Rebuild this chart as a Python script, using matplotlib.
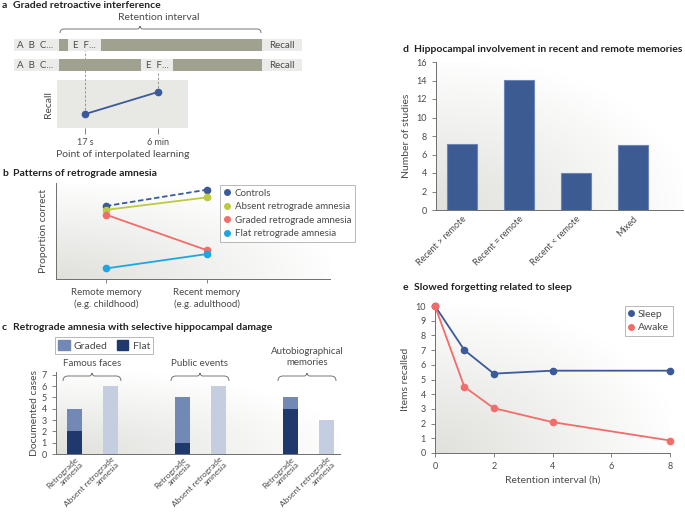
import numpy as np
import matplotlib
matplotlib.use('Agg')
import matplotlib.pyplot as plt
from matplotlib.colors import LinearSegmentedColormap
from matplotlib.path import Path
from matplotlib.patches import PathPatch, Rectangle, Patch
from matplotlib.lines import Line2D

plt.rcParams['font.family'] = ['Lato', 'DejaVu Sans']

# --- data -------------------------------------------------------------
# a: graded retroactive interference
interp_labels = ['17 s', '6 min']
recall_a = [0.29, 0.75]

# b: patterns of retrograde amnesia (proportion correct, schematic)
memory_labels = ['Remote memory\n(e.g. childhood)', 'Recent memory\n(e.g. adulthood)']
controls = [0.76, 0.93]
absent_ra = [0.72, 0.85]
graded_ra = [0.67, 0.30]
flat_ra = [0.11, 0.26]

# c: retrograde amnesia with selective hippocampal damage
groups_c = ['Famous faces', 'Public events', 'Autobiographical\nmemories']
ra_flat = [2, 1, 4]
ra_graded = [2, 4, 1]
absent_cases = [6, 6, 3]
bar_labels_c = ['Retrograde\namnesia', 'Absent retrograde\namnesia']

# d: hippocampal involvement
cats_d = ['Recent > remote', 'Recent = remote', 'Recent < remote', 'Mixed']
studies = [7.1, 14.05, 4, 7]

# e: slowed forgetting related to sleep
hours = [0, 1, 2, 4, 8]
sleep = [10, 7, 5.4, 5.6, 5.6]
awake = [10, 4.5, 3.05, 2.1, 0.85]

# --- style ------------------------------------------------------------
W, H = 685, 513
grey_txt = '#4a4a4a'
spine_c = '#6e6e6e'
c_blue = '#3a5a9a'
c_lime = '#bccb3c'
c_red = '#f26d6a'
c_cyan = '#1ea6e2'
c_graded = '#7189b4'
c_flat = '#1f396c'
c_absent = '#c5cde0'
bg_cmap = LinearSegmentedColormap.from_list('bg', ['#e0e0dc', '#ffffff'])

fig = plt.figure(figsize=(6.85, 5.13), dpi=100)


def rect(x0, y0, x1, y1):
    return [x0 / W, 1 - y1 / H, (x1 - x0) / W, (y1 - y0) / H]


def gradient(ax):
    gx, gy = np.meshgrid(np.linspace(0, 1, 200), np.linspace(0, 1, 200))
    t = np.clip(np.sqrt(gx ** 2 + gy ** 2) / 1.05, 0, 1)
    ax.imshow(t, cmap=bg_cmap, extent=(0, 1, 0, 1), transform=ax.transAxes,
              origin='lower', aspect='auto', zorder=0, interpolation='bilinear')


def style(ax):
    for s in ['top', 'right']:
        ax.spines[s].set_visible(False)
    for s in ['left', 'bottom']:
        ax.spines[s].set_color(spine_c)
        ax.spines[s].set_linewidth(0.7)
    ax.tick_params(colors=spine_c, labelcolor=grey_txt, labelsize=6.5,
                   length=3, width=0.6)


def brace(ax, x0, x1, y, xm=None, h=5):
    if xm is None:
        xm = (x0 + x1) / 2
    verts = [(x0, y + h), (x0, y), (x0 + h, y), (xm - 3, y), (xm, y), (xm, y - 3),
             (xm, y - 3), (xm, y), (xm + 3, y), (x1 - h, y), (x1, y), (x1, y + h)]
    codes = [Path.MOVETO, Path.CURVE3, Path.CURVE3, Path.LINETO, Path.CURVE3, Path.CURVE3,
             Path.MOVETO, Path.CURVE3, Path.CURVE3, Path.LINETO, Path.CURVE3, Path.CURVE3]
    ax.add_patch(PathPatch(Path(verts, codes), fill=False, ec='#777777', lw=0.7))


# --- a inset ----------------------------------------------------------
axa = fig.add_axes(rect(57, 80, 188, 128))
axa.set_facecolor('#e8e8e4')
axa.set_xlim(-0.384, 1.41)
axa.set_ylim(0, 1)
axa.plot([0, 1], recall_a, color=c_blue, lw=1.3, marker='o', ms=4.5, zorder=3)
axa.plot([0, 0], [recall_a[0], 1.6], ls=(0, (3, 2)), color='#888888', lw=0.6, clip_on=False, zorder=2)
axa.plot([1, 1], [recall_a[1], 1.19], ls=(0, (3, 2)), color='#888888', lw=0.6, clip_on=False, zorder=2)
for s in axa.spines.values():
    s.set_visible(False)
axa.set_xticks([0, 1])
axa.set_xticklabels(interp_labels)
axa.set_yticks([])
axa.tick_params(colors=spine_c, labelcolor=grey_txt, labelsize=6.5, length=4, width=0.6)
axa.set_xlabel('Point of interpolated learning', fontsize=7.5, color=grey_txt, labelpad=2)
axa.set_ylabel('Recall', fontsize=7.5, color=grey_txt, labelpad=3)

# --- b ----------------------------------------------------------------
axb = fig.add_axes(rect(56, 183, 330, 279))
gradient(axb)
style(axb)
xb = [0, 1]
axb.plot(xb, controls, color=c_blue, lw=1.3, ls=(0, (3, 1.5)), marker='o', ms=4.5)
axb.plot(xb, absent_ra, color=c_lime, lw=1.3, marker='o', ms=4.5)
axb.plot(xb, graded_ra, color=c_red, lw=1.3, marker='o', ms=4.5)
axb.plot(xb, flat_ra, color=c_cyan, lw=1.3, marker='o', ms=4.5)
axb.set_xlim(-0.495, 2.22)
axb.set_ylim(0, 1)
axb.set_xticks(xb)
axb.set_xticklabels(memory_labels, fontsize=7, linespacing=1.3)
axb.set_yticks([])
axb.set_ylabel('Proportion correct', fontsize=7.5, color=grey_txt, labelpad=6)
hb = [Line2D([], [], ls='none', marker='o', ms=4, color=c) for c in [c_blue, c_lime, c_red, c_cyan]]
lb = axb.legend(hb, ['Controls', 'Absent retrograde amnesia', 'Graded retrograde amnesia',
                     'Flat retrograde amnesia'],
                loc='upper left', bbox_to_anchor=(220 / W, 1 - 185 / H),
                bbox_transform=fig.transFigure, fontsize=7, frameon=True, fancybox=False,
                handlelength=0.6, handletextpad=0.5, borderpad=0.4, labelspacing=0.45,
                borderaxespad=0)
lb.get_frame().set_edgecolor('#999999')
lb.get_frame().set_linewidth(0.6)
for t in lb.get_texts():
    t.set_color(grey_txt)

# --- c ----------------------------------------------------------------
axc = fig.add_axes(rect(56, 372, 340, 454))
gradient(axc)
style(axc)
xr = [0, 3, 6]
xa = [1, 4, 7]
bw = 0.42
axc.bar(xr, ra_flat, width=bw, color=c_flat, zorder=2)
axc.bar(xr, ra_graded, bottom=ra_flat, width=bw, color=c_graded, zorder=2)
axc.bar(xa, absent_cases, width=bw, color=c_absent, zorder=2)
axc.set_xlim(-0.51, 7.37)
axc.set_ylim(0, 7.25)
axc.set_yticks(range(8))
axc.set_xticks(xr + xa)
axc.set_xticklabels([bar_labels_c[0]] * 3 + [bar_labels_c[1]] * 3, rotation=45,
                    ha='right', rotation_mode='anchor', fontsize=6, linespacing=1.0)
axc.tick_params(axis='x', length=0, pad=1)
axc.set_ylabel('Documented cases', fontsize=7.5, color=grey_txt, labelpad=2)
hc = [Patch(color=c_graded), Patch(color=c_flat)]
lc = axc.legend(hc, ['Graded', 'Flat'], ncol=2, loc='upper left',
                bbox_to_anchor=(55 / W, 1 - 337 / H), bbox_transform=fig.transFigure,
                fontsize=7.5, frameon=True, fancybox=False, handlelength=1.1, handleheight=1.1,
                handletextpad=0.4, columnspacing=0.9, borderpad=0.3, borderaxespad=0)
lc.get_frame().set_edgecolor('#999999')
lc.get_frame().set_linewidth(0.6)
for t in lc.get_texts():
    t.set_color(grey_txt)

# --- d ----------------------------------------------------------------
axd = fig.add_axes(rect(436, 62, 683, 210))
gradient(axd)
style(axd)
axd.bar(range(len(cats_d)), studies, width=0.52, color='#3b5b92', edgecolor='#6b86b6',
        lw=0.8, zorder=2)
axd.set_xlim(-0.456, 3.88)
axd.set_ylim(0, 16)
axd.set_yticks(range(0, 17, 2))
axd.set_xticks(range(len(cats_d)))
axd.set_xticklabels(cats_d, rotation=45, ha='right', rotation_mode='anchor', fontsize=6.5)
axd.tick_params(axis='x', length=0)
axd.set_ylabel('Number of studies', fontsize=7.5, color=grey_txt, labelpad=4)

# --- e ----------------------------------------------------------------
axe = fig.add_axes(rect(435, 306, 670, 453))
gradient(axe)
style(axe)
axe.plot(hours, sleep, color=c_blue, lw=1.3, marker='o', ms=4.5, clip_on=False, zorder=3)
axe.plot(hours, awake, color=c_red, lw=1.3, marker='o', ms=4.5, clip_on=False, zorder=3)
axe.set_xlim(0, 8)
axe.set_ylim(0, 10)
axe.set_xticks(range(0, 9, 2))
axe.set_yticks(range(11))
axe.set_xlabel('Retention interval (h)', fontsize=7.5, color=grey_txt, labelpad=3)
axe.set_ylabel('Items recalled', fontsize=7.5, color=grey_txt, labelpad=4)
he = [Line2D([], [], ls='none', marker='o', ms=4, color=c) for c in [c_blue, c_red]]
le = axe.legend(he, ['Sleep', 'Awake'], loc='upper left',
                bbox_to_anchor=(625 / W, 1 - 306 / H), bbox_transform=fig.transFigure,
                fontsize=7.5, frameon=True, fancybox=False, handlelength=0.5,
                handletextpad=0.4, borderpad=0.35, labelspacing=0.4, borderaxespad=0)
le.get_frame().set_edgecolor('#999999')
le.get_frame().set_linewidth(0.6)
for t in le.get_texts():
    t.set_color(grey_txt)

# --- overlay: titles, timelines, braces --------------------------------
ov = fig.add_axes([0, 0, 1, 1])
ov.set_xlim(0, W)
ov.set_ylim(H, 0)
ov.axis('off')

for y in [39, 59]:
    ov.add_patch(Rectangle((14, y), 288, 12, color='#ebebe9', lw=0))
for x0, x1 in [(59, 68), (101, 262)]:
    ov.add_patch(Rectangle((x0, 39), x1 - x0, 12, color='#a0a18f', lw=0))
for x0, x1 in [(59, 141), (173, 262)]:
    ov.add_patch(Rectangle((x0, 59), x1 - x0, 12, color='#a0a18f', lw=0))
tl_kw = dict(fontsize=7, color=grey_txt, va='center')
for y in [45, 65]:
    ov.text(17, y, 'A  B  C...', **tl_kw)
    ov.text(282, y, 'Recall', ha='center', **tl_kw)
ov.text(73, 45, 'E  F...', **tl_kw)
ov.text(146, 65, 'E  F...', **tl_kw)
brace(ov, 60, 261, 29, xm=140, h=4)
ov.text(159, 18, 'Retention interval', ha='center', va='center', fontsize=7.5, color=grey_txt)

brace(ov, 63, 121, 376)
brace(ov, 171, 229, 376)
brace(ov, 278, 336, 376)
ov.text(92, 363, groups_c[0], ha='center', va='center', fontsize=7, color=grey_txt)
ov.text(200, 363, groups_c[1], ha='center', va='center', fontsize=7, color=grey_txt)
ov.text(307, 357, groups_c[2], ha='center', va='center', fontsize=7, color=grey_txt,
        linespacing=1.15)

titles = [(2, 5, 'a', 'Graded retroactive interference'),
          (2, 173, 'b', 'Patterns of retrograde amnesia'),
          (2, 327, 'c', 'Retrograde amnesia with selective hippocampal damage'),
          (403, 49, 'd', 'Hippocampal involvement in recent and remote memories'),
          (403, 287, 'e', 'Slowed forgetting related to sleep')]
for x, y, letter, title in titles:
    ov.text(x, y, letter, fontsize=7.5, fontweight='bold', color='#222222', va='center')
    ov.text(x + 11, y, title, fontsize=7.5, fontweight='bold', color='#222222', va='center')

fig.savefig('out.png', dpi=100)
